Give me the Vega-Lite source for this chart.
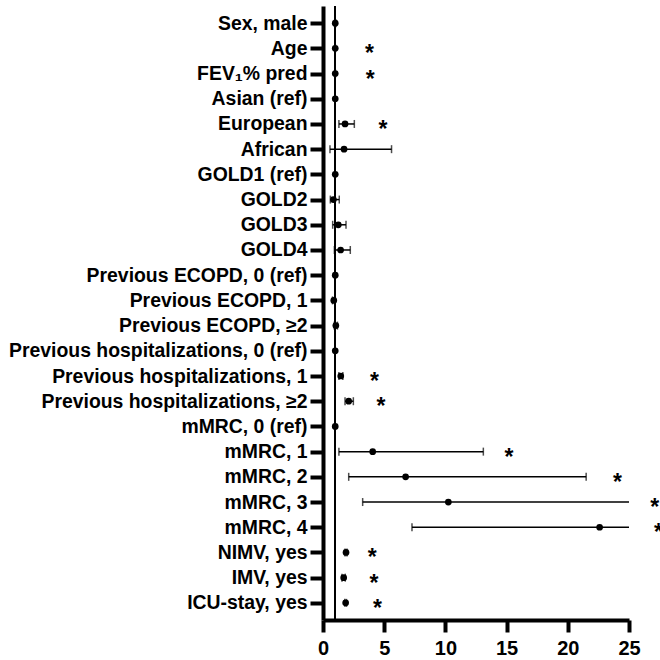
{
  "$schema": "https://vega.github.io/schema/vega-lite/v6.json",
  "width": 306,
  "height": 614,
  "autosize": {"type": "none"},
  "padding": {"left": 323, "top": 6, "right": 31, "bottom": 40},
  "background": "white",
  "config": {
    "view": {"stroke": null},
    "font": "Liberation Sans",
    "axis": {"grid": false, "domainColor": "black", "tickColor": "black", "labelColor": "black", "labelFont": "Liberation Sans", "labelFontWeight": "bold"}
  },
  "data": {
    "values": [
      {"label": "Sex, male", "or": 1.0, "lo": 0.95, "hi": 1.05, "star": null},
      {"label": "Age", "or": 1.0, "lo": 0.98, "hi": 1.02, "star": 3.8},
      {"label": "FEV₁% pred", "or": 1.0, "lo": 0.98, "hi": 1.02, "star": 3.85},
      {"label": "Asian (ref)", "or": 1.0, "lo": 1.0, "hi": 1.0, "star": null},
      {"label": "European", "or": 1.8, "lo": 1.3, "hi": 2.56, "star": 4.9},
      {"label": "African", "or": 1.72, "lo": 0.57, "hi": 5.6, "star": null},
      {"label": "GOLD1 (ref)", "or": 1.0, "lo": 1.0, "hi": 1.0, "star": null},
      {"label": "GOLD2", "or": 0.85, "lo": 0.6, "hi": 1.33, "star": null},
      {"label": "GOLD3", "or": 1.25, "lo": 0.79, "hi": 1.88, "star": null},
      {"label": "GOLD4", "or": 1.44, "lo": 0.93, "hi": 2.23, "star": null},
      {"label": "Previous ECOPD, 0 (ref)", "or": 1.0, "lo": 1.0, "hi": 1.0, "star": null},
      {"label": "Previous ECOPD, 1", "or": 0.88, "lo": 0.78, "hi": 1.0, "star": null},
      {"label": "Previous ECOPD, ≥2", "or": 1.05, "lo": 0.92, "hi": 1.18, "star": null},
      {"label": "Previous hospitalizations, 0 (ref)", "or": 1.0, "lo": 1.0, "hi": 1.0, "star": null},
      {"label": "Previous hospitalizations, 1", "or": 1.45, "lo": 1.3, "hi": 1.62, "star": 4.2},
      {"label": "Previous hospitalizations, ≥2", "or": 2.1, "lo": 1.8, "hi": 2.48, "star": 4.74},
      {"label": "mMRC, 0 (ref)", "or": 1.0, "lo": 1.0, "hi": 1.0, "star": null},
      {"label": "mMRC, 1", "or": 4.06, "lo": 1.3, "hi": 13.1, "star": 15.2},
      {"label": "mMRC, 2", "or": 6.75, "lo": 2.1, "hi": 21.5, "star": 24.05},
      {"label": "mMRC, 3", "or": 10.24, "lo": 3.24, "hi": 32.0, "star": 27.1},
      {"label": "mMRC, 4", "or": 22.6, "lo": 7.27, "hi": 70.0, "star": 27.4},
      {"label": "NIMV, yes", "or": 1.88, "lo": 1.8, "hi": 1.96, "star": 4.03},
      {"label": "IMV, yes", "or": 1.69, "lo": 1.55, "hi": 1.82, "star": 4.17},
      {"label": "ICU-stay, yes", "or": 1.85, "lo": 1.78, "hi": 1.92, "star": 4.44}
    ]
  },
  "encoding": {
    "y": {
      "field": "label", "type": "nominal", "sort": null,
      "scale": {"type": "point", "padding": 0.68},
      "axis": {"title": null, "labelFontSize": 19.4, "labelPadding": 3, "tickSize": 13, "tickWidth": 4, "domainWidth": 4, "labelLimit": 400}
    }
  },
  "layer": [
    {
      "mark": {"type": "rule", "color": "black", "strokeWidth": 1.5},
      "encoding": {"x": {"datum": 1, "type": "quantitative"}, "y": null}
    },
    {
      "mark": {"type": "rule", "color": "black", "strokeWidth": 1.5, "clip": true},
      "encoding": {
        "x": {"field": "lo", "type": "quantitative", "scale": {"domain": [0, 25], "nice": false},
          "axis": {"title": null, "values": [0, 5, 10, 15, 20, 25], "labelFontSize": 20, "tickSize": 12, "tickWidth": 4, "domainWidth": 4, "labelPadding": 6, "labelFlush": false}},
        "x2": {"field": "hi"}
      }
    },
    {
      "mark": {"type": "tick", "color": "black", "thickness": 1.5, "size": 8, "clip": true},
      "encoding": {"x": {"field": "lo", "type": "quantitative"}}
    },
    {
      "mark": {"type": "tick", "color": "black", "thickness": 1.5, "size": 8, "clip": true},
      "encoding": {"x": {"field": "hi", "type": "quantitative"}}
    },
    {
      "mark": {"type": "point", "filled": true, "color": "black", "opacity": 1, "size": 45, "shape": "circle"},
      "encoding": {"x": {"field": "or", "type": "quantitative"}}
    },
    {
      "transform": [{"filter": "datum.star != null"}],
      "mark": {"type": "text", "text": "*", "font": "Liberation Sans", "fontWeight": "bold", "fontSize": 23, "baseline": "alphabetic", "align": "center", "dy": 13, "color": "black"},
      "encoding": {"x": {"field": "star", "type": "quantitative"}}
    }
  ]
}
